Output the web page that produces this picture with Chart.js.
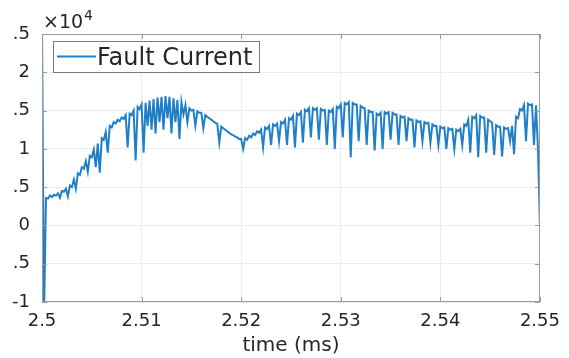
<!DOCTYPE html>
<html>
<head>
<meta charset="utf-8">
<script src="https://cdn.jsdelivr.net/npm/chart.js@4.4.0/dist/chart.umd.min.js"></script>
<style>
  html, body { margin: 0; padding: 0; background: #fff; }
  canvas { display: block; }
</style>
</head>
<body>
<canvas id="faultChart" width="569" height="358"></canvas>
<script>
// sampling of the trace (ms)
const t0 = 2.5;
const dt = 0.0002;

// fault current, in units of 1e4 A
const current = [
  2.6, -1.2, 0.36, 0.35, 0.39, 0.37, 0.40, 0.39, 0.42, 0.36,
  0.45, 0.44, 0.48, 0.38, 0.52, 0.50, 0.60, 0.48, 0.68, 0.66,
  0.76, 0.74, 0.84, 0.70, 0.91, 0.89, 0.99, 0.76, 1.07, 0.69,
  1.14, 1.12, 1.22, 0.95, 1.30, 1.28, 1.35, 1.33, 1.38, 1.36,
  1.41, 1.39, 1.44, 1.02, 1.46, 1.44, 1.50, 0.85, 1.55, 1.52,
  1.58, 0.95, 1.60, 1.30, 1.63, 1.25, 1.65, 1.20, 1.67, 1.35,
  1.68, 1.25, 1.69, 1.40, 1.68, 1.20, 1.66, 1.35, 1.64, 1.13,
  1.61, 1.45, 1.57, 1.35, 1.53, 1.50, 1.51, 1.30, 1.49, 1.47,
  1.47, 1.27, 1.44, 1.42, 1.40, 1.38, 1.36, 1.34, 1.33, 1.08,
  1.29, 1.27, 1.25, 1.23, 1.21, 1.19, 1.18, 1.16, 1.15, 1.13,
  1.13, 1.00, 1.14, 1.12, 1.17, 1.15, 1.20, 1.18, 1.23, 1.21,
  1.25, 1.02, 1.28, 1.26, 1.30, 1.05, 1.32, 1.30, 1.33, 1.10,
  1.35, 1.33, 1.38, 1.05, 1.40, 1.38, 1.43, 1.02, 1.46, 1.44,
  1.48, 1.08, 1.51, 1.49, 1.53, 1.15, 1.53, 1.51, 1.53, 1.12,
  1.52, 1.50, 1.51, 1.05, 1.50, 1.48, 1.52, 1.00, 1.55, 1.53,
  1.58, 1.15, 1.60, 1.58, 1.61, 0.89, 1.60, 1.58, 1.58, 1.10,
  1.56, 1.54, 1.53, 1.05, 1.50, 1.48, 1.48, 0.98, 1.46, 1.44,
  1.47, 1.00, 1.48, 1.46, 1.48, 1.12, 1.47, 1.45, 1.45, 1.05,
  1.43, 1.41, 1.42, 1.10, 1.40, 1.38, 1.38, 1.02, 1.37, 1.35,
  1.36, 1.10, 1.35, 1.33, 1.34, 1.08, 1.32, 1.30, 1.30, 1.05,
  1.29, 1.27, 1.28, 1.00, 1.27, 1.25, 1.26, 1.00, 1.25, 1.23,
  1.26, 1.05, 1.32, 1.30, 1.38, 0.95, 1.42, 1.40, 1.44, 0.89,
  1.43, 1.41, 1.41, 0.95, 1.38, 1.36, 1.34, 0.92, 1.31, 1.29,
  1.29, 0.90, 1.28, 1.26, 1.27, 1.10, 1.30, 0.93, 1.42, 1.40,
  1.52, 1.50, 1.57, 1.10, 1.59, 1.57, 1.58, 1.05, 1.57, 1.00,
  0.0
];

const xTicks = [2.5, 2.51, 2.52, 2.53, 2.54, 2.55];
const xTickText = ['2.5', '2.51', '2.52', '2.53', '2.54', '2.55'];
const yTicks = [-1, -0.5, 0, 0.5, 1, 1.5, 2, 2.5];
// left edge of the figure is cut off, so only the tail of each label shows
const yTickText = ['-1', '.5', '0', '.5', '1', '.5', '2', '.5'];

const lineColor = '#1f80c8';
const textColor = '#262626';

const points = current.map((v, i) => ({ x: t0 + i * dt, y: v }));

// box, inward ticks, x10^4 and the legend, matlab style
const matlabBits = {
  id: 'matlabBits',
  afterDatasetsDraw(chart) {
    const { ctx, chartArea: a, scales } = chart;
    ctx.save();
    ctx.strokeStyle = '#9a9a9a';
    ctx.lineWidth = 1;
    ctx.strokeRect(a.left + 0.5, a.top + 0.5, a.right - a.left - 1, a.bottom - a.top - 1);
    ctx.beginPath();
    xTicks.forEach(v => {
      const px = Math.round(scales.x.getPixelForValue(v)) + 0.5;
      ctx.moveTo(px, a.bottom); ctx.lineTo(px, a.bottom - 5);
      ctx.moveTo(px, a.top); ctx.lineTo(px, a.top + 5);
    });
    yTicks.forEach(v => {
      const py = Math.round(scales.y.getPixelForValue(v)) + 0.5;
      ctx.moveTo(a.left, py); ctx.lineTo(a.left + 5, py);
      ctx.moveTo(a.right, py); ctx.lineTo(a.right - 5, py);
    });
    ctx.stroke();

    // exponent
    ctx.fillStyle = textColor;
    ctx.textBaseline = 'alphabetic';
    ctx.textAlign = 'left';
    ctx.font = '19px "DejaVu Sans"';
    ctx.fillText('\u00d710', 43, 28);
    const w = ctx.measureText('\u00d710').width;
    ctx.font = '14px "DejaVu Sans"';
    ctx.fillText('4', 43 + w + 1, 20);

    // legend
    const ds = chart.data.datasets[0];
    ctx.fillStyle = '#fff';
    ctx.fillRect(53, 41, 207, 32);
    ctx.strokeStyle = '#7a7a7a';
    ctx.strokeRect(53.5, 41.5, 206, 31);
    ctx.strokeStyle = ds.borderColor;
    ctx.lineWidth = 2;
    ctx.beginPath();
    ctx.moveTo(57, 56.5); ctx.lineTo(96, 56.5);
    ctx.stroke();
    ctx.fillStyle = textColor;
    ctx.font = '24px "DejaVu Sans"';
    ctx.fillText(ds.label, 97, 65);
    ctx.restore();
  }
};

const ctx = document.getElementById('faultChart').getContext('2d');

new Chart(ctx, {
  type: 'line',
  data: {
    datasets: [{
      label: 'Fault Current',
      data: points,
      borderColor: lineColor,
      borderWidth: 2,
      pointRadius: 0,
      tension: 0,
      fill: false
    }]
  },
  options: {
    responsive: false,
    animation: false,
    devicePixelRatio: 1,
    layout: { padding: { top: 34, right: 28, left: 0, bottom: 0 } },
    plugins: {
      legend: { display: false },
      tooltip: { enabled: false }
    },
    scales: {
      x: {
        type: 'linear',
        min: 2.5,
        max: 2.55,
        afterBuildTicks: s => { s.ticks = xTicks.map(v => ({ value: v })); },
        afterFit: s => { s.height = 56; },
        ticks: {
          autoSkip: false,
          maxRotation: 0,
          padding: 9,
          color: textColor,
          font: { family: 'DejaVu Sans', size: 18 },
          callback: (v) => xTickText[xTicks.indexOf(v)]
        },
        grid: { color: '#ececec', drawTicks: false },
        border: { display: false },
        title: {
          display: true,
          text: 'time (ms)',
          color: textColor,
          font: { family: 'DejaVu Sans', size: 20 },
          padding: { top: 0, bottom: 0 }
        }
      },
      y: {
        min: -1,
        max: 2.5,
        afterBuildTicks: s => { s.ticks = yTicks.map(v => ({ value: v })); },
        afterFit: s => { s.width = 42; },
        ticks: {
          padding: 12,
          color: textColor,
          font: { family: 'DejaVu Sans', size: 18 },
          callback: (v) => yTickText[yTicks.indexOf(v)]
        },
        grid: { color: '#ececec', drawTicks: false },
        border: { display: false }
      }
    }
  },
  plugins: [matlabBits]
});
</script>
</body>
</html>
